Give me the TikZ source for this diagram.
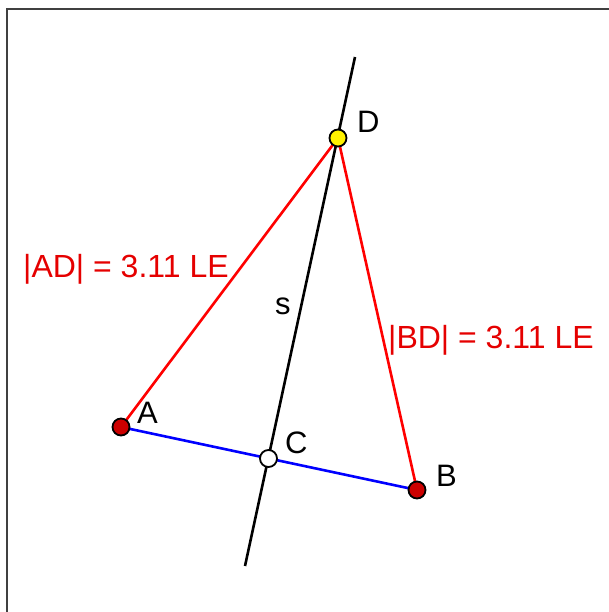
\documentclass[tikz,border=0pt]{standalone}
\usepackage{fontspec}
\setmainfont{Liberation Sans}
\begin{document}
\begin{tikzpicture}[x=1pt,y=-1pt,
  lbl/.style={inner sep=0pt,anchor=base west,font=\fontsize{31}{31}\selectfont},
  meas/.style={lbl,text=red!90!black,font=\fontsize{32}{32}\selectfont},
  pt/.style={circle,draw=black,line width=1.8pt,minimum size=17pt,inner sep=0pt},
  seg/.style={line width=2.6pt}]
\useasboundingbox (0,0) rectangle (609,612);
\draw[line width=2pt,draw=black!75] (6.5,612) -- (6.5,9.5) -- (609,9.5);
\coordinate (pA) at (121,427);
\coordinate (pB) at (417,490);
\coordinate (pC) at (268.5,458.5);
\coordinate (pD) at (338,138);
\coordinate (sTop) at (355,57);
\coordinate (sBot) at (245,566);
\draw[seg,black] (sTop) -- (sBot);
\draw[seg,red] (pA) -- (pD);
\draw[seg,red] (pB) -- (pD);
\draw[seg,blue] (pA) -- (pB);
\node[pt,fill=red!80!black] (A) at (pA) {};
\node[pt,fill=red!80!black] (B) at (pB) {};
\node[pt,fill=white] (C) at (pC) {};
\node[pt,fill=yellow] (D) at (pD) {};
\node[lbl] (lA) at (137,423) {A};
\node[lbl] (lB) at (436,486) {B};
\node[lbl] (lC) at (285,453) {C};
\node[lbl] (lD) at (357,133) {D};
\node[lbl] (ls) at (275,314) {s};
\node[meas] (mAD) at (23,277) {|AD| = 3.11 LE};
\node[meas] (mBD) at (388,348) {|BD| = 3.11 LE};
\end{tikzpicture}
\end{document}
